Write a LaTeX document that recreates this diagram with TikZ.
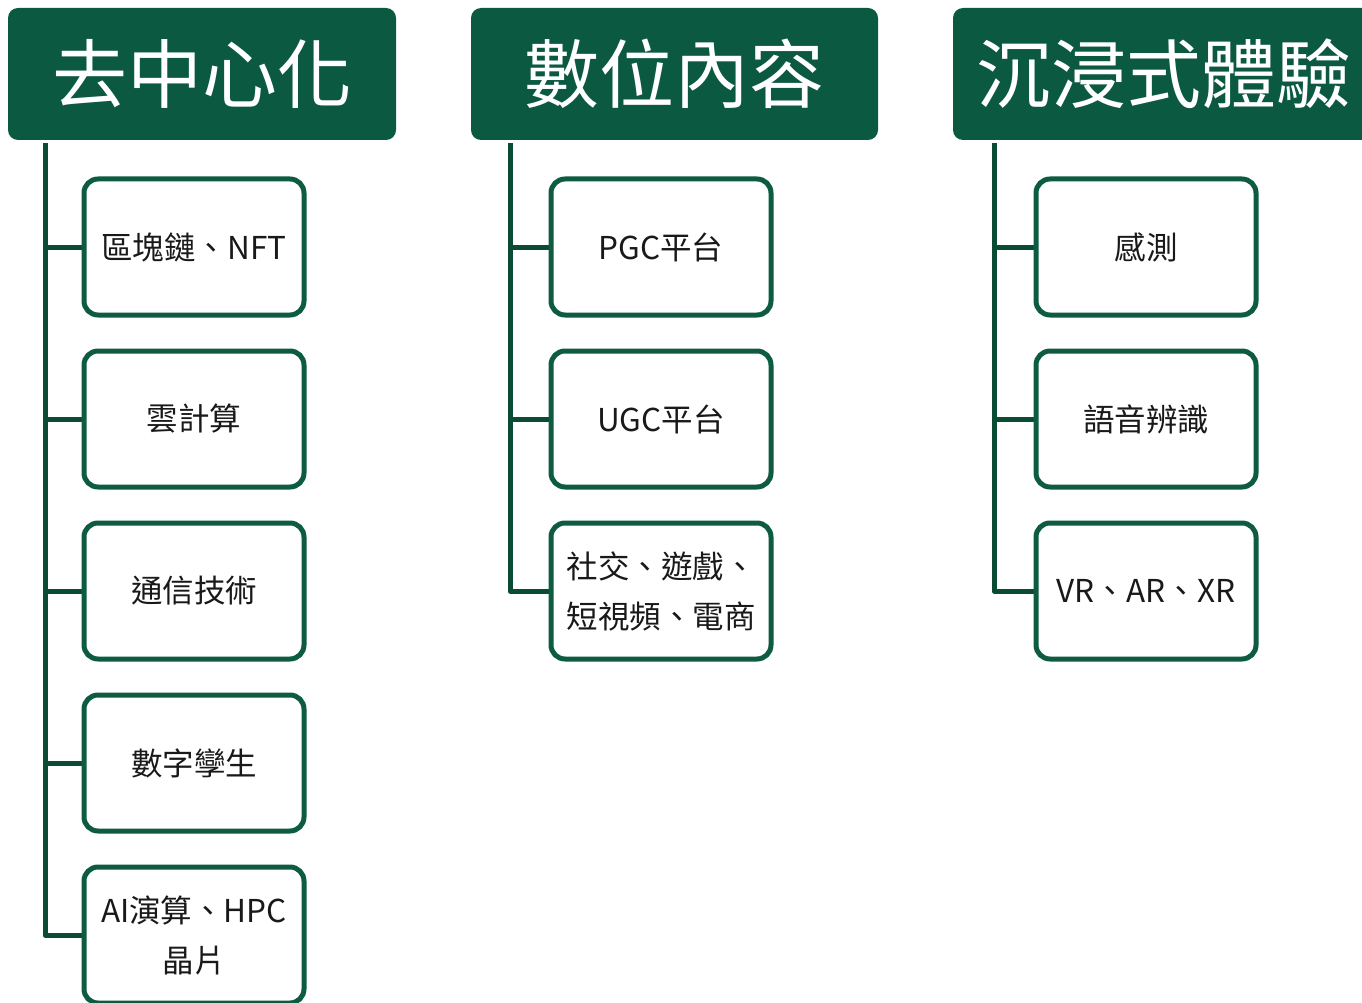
\documentclass[tikz,border=0pt]{standalone}
\usepackage{fontspec}
\setmainfont{Noto Sans CJK TC}
\usetikzlibrary{backgrounds}
\definecolor{hdr}{HTML}{0B5940}
\definecolor{brd}{HTML}{0D5C41}
\definecolor{ln}{HTML}{0A4B33}
\begin{document}
\begin{tikzpicture}[x=1pt,y=1pt,
 header/.style={fill=hdr, rounded corners=10pt, text=white, font=\fontsize{75}{82}\selectfont, inner sep=0pt, minimum height=132pt},
 item/.style={draw=brd, line width=5pt, rounded corners=14pt, fill=white, minimum width=220pt, minimum height=136pt, inner sep=0pt, align=center, font=\fontsize{31.5}{50}\selectfont, text=black!90},
 trunk/.style={draw=ln, line width=5pt, line join=round}]
\useasboundingbox (0,0) rectangle (1362,-1003);
\clip (0,0) rectangle (1362,-1003);
% headers
\node[header, minimum width=388pt] (h1) at (202,-74) {去中心化};
\node[header, minimum width=407pt] (h2) at (674.5,-74) {數位內容};
\node[header, minimum width=427pt, text width=388pt, align=center] (h3) at (1166.5,-74) {\hspace*{-6pt}沉浸式體驗};
% column 1
\node[item] (a1) at (194,-247) {區塊鏈、NFT};
\node[item] (a2) at (194,-419) {雲計算};
\node[item] (a3) at (194,-591) {通信技術};
\node[item] (a4) at (194,-763) {數字孿生};
\node[item] (a5) at (194,-935) {AI演算、HPC\\晶片};
% column 2
\node[item] (b1) at (661,-247) {PGC平台};
\node[item] (b2) at (661,-419) {UGC平台};
\node[item] (b3) at (661,-591) {社交、遊戲、\\短視頻、電商};
% column 3
\node[item] (c1) at (1146,-247) {感測};
\node[item] (c2) at (1146,-419) {語音辨識};
\node[item] (c3) at (1146,-591) {VR、AR、XR};
% trunks
\coordinate (ta) at (45,-143);
\coordinate (tb) at (510,-143);
\coordinate (tc) at (994,-143);
\begin{scope}[on background layer]
\draw[trunk] (ta) |- (a5.west);
\draw[trunk] (ta |- a1.west) -- (a1.west);
\draw[trunk] (ta |- a2.west) -- (a2.west);
\draw[trunk] (ta |- a3.west) -- (a3.west);
\draw[trunk] (ta |- a4.west) -- (a4.west);
\draw[trunk] (tb) |- (b3.west);
\draw[trunk] (tb |- b1.west) -- (b1.west);
\draw[trunk] (tb |- b2.west) -- (b2.west);
\draw[trunk] (tc) |- (c3.west);
\draw[trunk] (tc |- c1.west) -- (c1.west);
\draw[trunk] (tc |- c2.west) -- (c2.west);
\end{scope}
\end{tikzpicture}
\end{document}
